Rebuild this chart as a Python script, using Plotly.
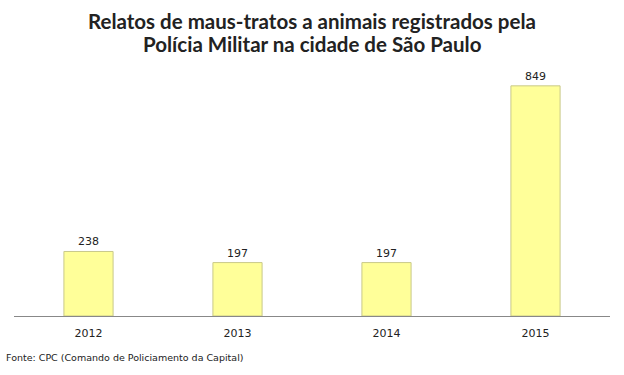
import plotly.graph_objects as go

years = ["2012", "2013", "2014", "2015"]
relatos = [238, 197, 197, 849]
title_lines = ["Relatos de maus-tratos a animais registrados pela",
               "Polícia Militar na cidade de São Paulo"]
source = "Fonte: CPC (Comando de Policiamento da Capital)"

fig = go.Figure(go.Bar(
    x=years, y=relatos,
    marker=dict(color="#FFFF99", line=dict(color="#C9C98A", width=1)),
    width=0.33,
    text=[str(v) for v in relatos], textposition="outside",
    textfont=dict(family="DejaVu Sans", size=11, color="#222"),
    cliponaxis=False,
))

ann = []
for line, yp in zip(title_lines, [21, 44]):
    ann.append(dict(
        text="<b>" + line + "</b>", xref="paper", yref="paper",
        x=0.5, y=(316 - yp) / 244, xanchor="center", yanchor="middle",
        showarrow=False, font=dict(family="Lato", size=20.5, color="#222"),
    ))
ann.append(dict(
    text=source, xref="paper", yref="paper", x=(4 - 14) / 596, y=(316 - 357) / 244,
    xanchor="left", yanchor="middle", showarrow=False,
    font=dict(family="DejaVu Sans", size=9.5, color="#222"),
))

fig.update_layout(
    width=624, height=375,
    margin=dict(l=14, r=14, t=72, b=59),
    paper_bgcolor="white", plot_bgcolor="white",
    showlegend=False,
    xaxis=dict(
        showline=True, linecolor="#888", linewidth=1,
        ticks="", tickfont=dict(family="DejaVu Sans", size=11, color="#222"),
        ticklabelstandoff=7,
        showgrid=False,
    ),
    yaxis=dict(range=[0, 900], visible=False, showgrid=False),
    annotations=ann,
)

fig.write_html("out.html", config={"displayModeBar": False},
               post_script="document.body.style.margin='0';")
